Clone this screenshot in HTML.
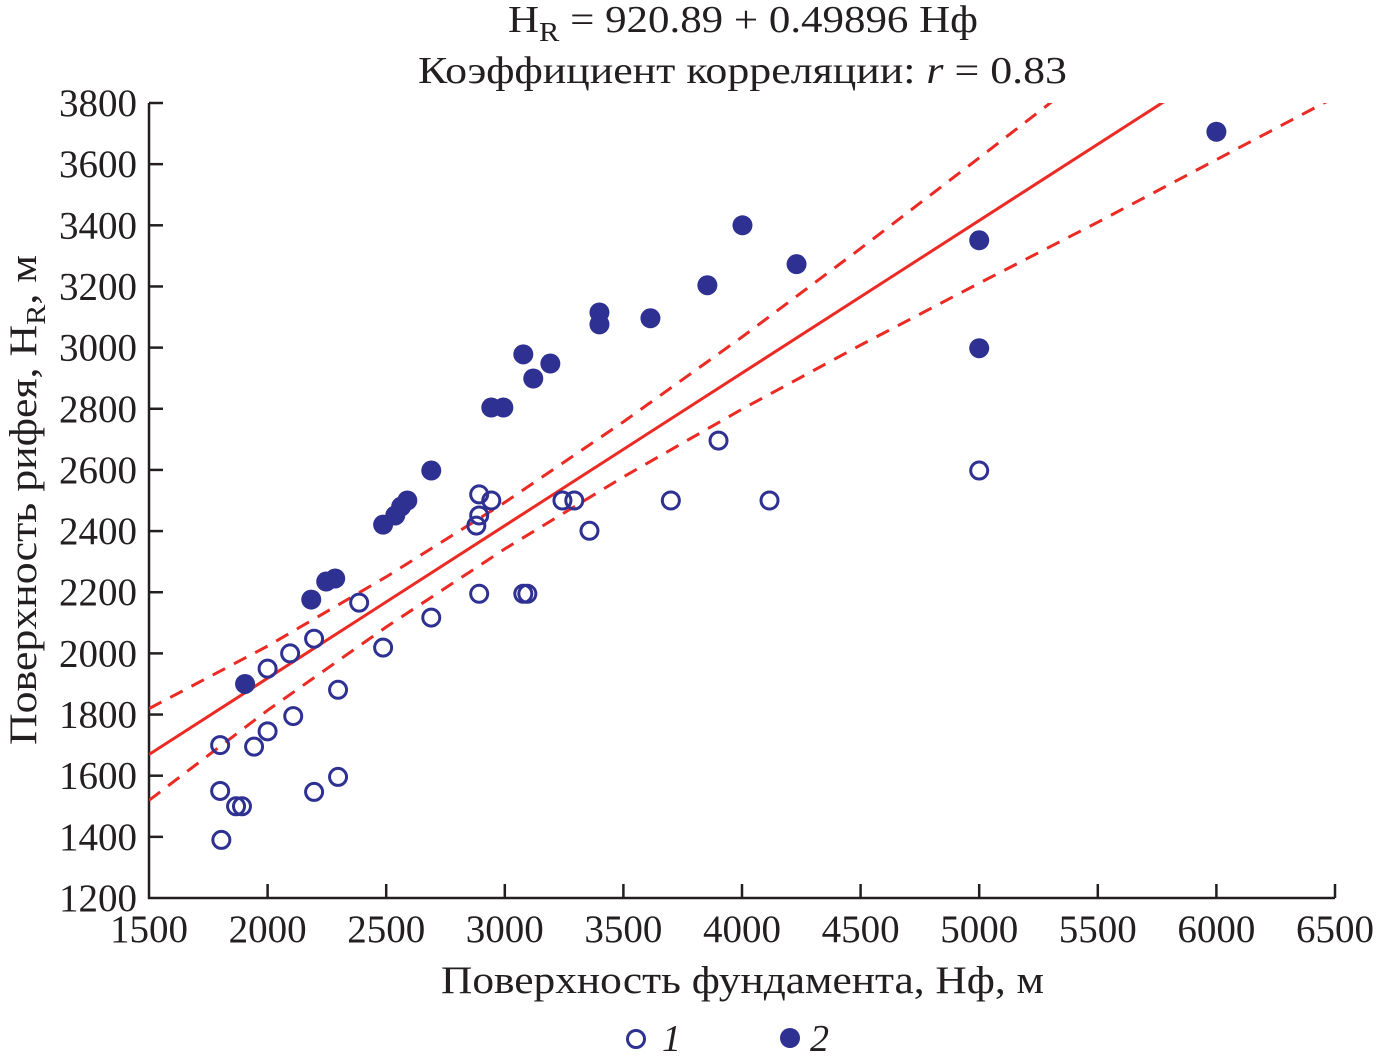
<!DOCTYPE html>
<html><head><meta charset="utf-8"><style>
html,body{margin:0;padding:0;background:#fff;}
svg{display:block;}
text{font-family:"Liberation Serif",serif;fill:#231f20;}
</style></head><body>
<svg id="chart" width="1376" height="1064" viewBox="0 0 1376 1064" xmlns="http://www.w3.org/2000/svg">
<text x="508" y="32" font-size="38" textLength="470" lengthAdjust="spacingAndGlyphs">H<tspan font-size="27" dy="9">R</tspan><tspan dy="-9"> = 920.89 + 0.49896 Hф</tspan></text>
<text x="418" y="83" font-size="38" textLength="649" lengthAdjust="spacingAndGlyphs">Коэффициент корреляции: <tspan font-style="italic">r</tspan> = 0.83</text>
<g id="plot"></g>
<text x="441" y="993" font-size="39" textLength="603" lengthAdjust="spacingAndGlyphs">Поверхность фундамента, Hф, м</text>
<text transform="translate(36,745) rotate(-90)" font-size="39" textLength="490" lengthAdjust="spacingAndGlyphs">Поверхность рифея, H<tspan font-size="27" dy="9">R</tspan><tspan dy="-9">, м</tspan></text>
<g>
<circle cx="636" cy="1039" r="8.5" fill="none" stroke="#2e3192" stroke-width="3"/>
<text x="662" y="1051" font-size="38" font-style="italic">1</text>
<circle cx="790" cy="1038" r="10" fill="#2e3192"/>
<text x="810" y="1051" font-size="38" font-style="italic">2</text>
</g>
</svg>
<script>
const xTicks = [1500,2000,2500,3000,3500,4000,4500,5000,5500,6000,6500];
const yTicks = [1200,1400,1600,1800,2000,2200,2400,2600,2800,3000,3200,3400,3600,3800];
const openX = [1800,1800,1805,1867,1892,1943,2000,2000,2095,2108,2196,2196,2297,2297,2386,2487,2690,2880,2892,2892,2892,2943,3078,3095,3243,3293,3357,3700,3901,4116,5000];
const openY = [1700,1550,1390,1500,1500,1695,1950,1745,2000,1795,2048,1547,1881,1596,2166,2019,2117,2418,2520,2451,2195,2500,2195,2195,2500,2500,2401,2500,2696,2500,2598];
const filledX = [1905,2184,2247,2285,2487,2538,2563,2589,2690,2943,2994,3078,3120,3192,3399,3399,3614,3854,4002,4230,5000,5000,6000];
const filledY = [1900,2176,2235,2245,2421,2451,2480,2500,2598,2804,2804,2978,2899,2948,3115,3076,3096,3204,3400,3273,3351,2998,3706];
const regIntercept = 920.89, regSlope = 0.49896;
const bandX = [1500,2000,2500,3000,3500,4000,4500,5000,5500,6000,6500];
const bandHalf = [150,105,82,76,90,118,158,205,255,300,345];

const X0=1500,X1=6500,Y0=1200,Y1=3800,PL=149,PR=1335,PT=103,PB=898;
const sx=v=>PL+(v-X0)/(X1-X0)*(PR-PL);
const sy=v=>PB-(v-Y0)/(Y1-Y0)*(PB-PT);
const NS='http://www.w3.org/2000/svg';
const plot=document.getElementById('plot');
function mk(tag,attrs){const e=document.createElementNS(NS,tag);for(const k in attrs)e.setAttribute(k,attrs[k]);plot.appendChild(e);return e;}

const defs=mk('defs',{});
const cp=document.createElementNS(NS,'clipPath');cp.setAttribute('id','clip');
const cr=document.createElementNS(NS,'rect');cr.setAttribute('x',PL);cr.setAttribute('y',PT);cr.setAttribute('width',PR-PL);cr.setAttribute('height',PB-PT);
cp.appendChild(cr);defs.appendChild(cp);

let ax=mk('path',{d:`M${PL},${PT} V${PB} H${PR}`,fill:'none',stroke:'#231f20','stroke-width':2.5});


xTicks.forEach(t=>{
  const x=sx(t);
  if(t>X0){let tk=mk('line',{x1:x,x2:x,y1:PB,y2:PB-14,stroke:'#231f20','stroke-width':2.5});
  
  }
  let tl=mk('text',{x:x,y:942,'font-size':39,'text-anchor':'middle'});tl.textContent=t;
  
  
});
yTicks.forEach(t=>{
  const y=sy(t);
  if(t>Y0){let tk=mk('line',{x1:PL,x2:PL+14,y1:y,y2:y,stroke:'#231f20','stroke-width':2.5});
  
  }
  let tl=mk('text',{x:137,y:y+13,'font-size':39,'text-anchor':'end'});tl.textContent=t;
  
  
});

const g=mk('g',{'clip-path':'url(#clip)'});
const lineD=`M${sx(X0)},${sy(regIntercept+regSlope*X0)} L${sx(X1)},${sy(regIntercept+regSlope*X1)}`;
let rl=document.createElementNS(NS,'path');
rl.setAttribute('d',lineD);rl.setAttribute('stroke','#ec2a24');rl.setAttribute('stroke-width',3);rl.setAttribute('fill','none');


g.appendChild(rl);
[1,-1].forEach(s=>{
  const d=bandX.map((x,i)=>(i?'L':'M')+sx(x)+','+sy(regIntercept+regSlope*x+s*bandHalf[i])).join(' ');
  const p=document.createElementNS(NS,'path');
  p.setAttribute('d',d);p.setAttribute('stroke','#ec2a24');p.setAttribute('stroke-width',3);p.setAttribute('fill','none');p.setAttribute('stroke-dasharray','14 10');
  
  
  g.appendChild(p);
});

openX.forEach((x,i)=>{
  const c=mk('circle',{cx:sx(x),cy:sy(openY[i]),r:8.5,fill:'none',stroke:'#2e3192','stroke-width':3});
  
  
});
filledX.forEach((x,i)=>{
  const c=mk('circle',{cx:sx(x),cy:sy(filledY[i]),r:10,fill:'#2e3192'});
  
  
});
</script>
</body></html>
